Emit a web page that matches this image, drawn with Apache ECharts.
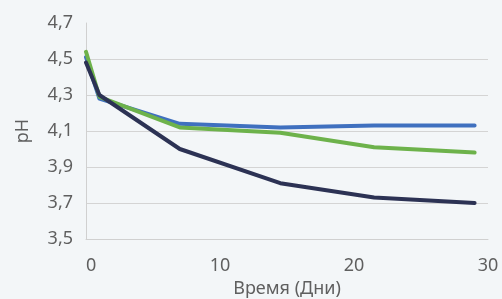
<!DOCTYPE html>
<html><head><meta charset="utf-8">
<script src="https://cdn.jsdelivr.net/npm/echarts@6/dist/echarts.min.js"></script>
<style>html,body{margin:0;padding:0;background:#f3f6f8}#c{width:502px;height:299px}</style>
</head><body><div id="c"></div>
<script>
const days = [0, 1, 7, 14.5, 21.5, 29];
const blueVals = [4.51, 4.28, 4.14, 4.12, 4.13, 4.13];
const greenVals = [4.54, 4.29, 4.12, 4.09, 4.01, 3.98];
const darkVals = [4.48, 4.30, 4.00, 3.81, 3.73, 3.70];
const xName = 'Время (Дни)';
const yName = 'pH';

const pair = v => days.map((d, i) => [d, v[i]]);
const chart = echarts.init(document.getElementById('c'));
const lineS = (name, vals, color) => ({
  name, type: 'line', data: pair(vals), showSymbol: false, symbol: 'none',
  lineStyle: { width: 4, color, cap: 'round', join: 'round' }, itemStyle: { color }
});
const font = 'Noto Sans';
chart.setOption({
  backgroundColor: '#f3f6f8',
  animation: false,
  grid: { left: 86, right: 14, top: 23, bottom: 60, containLabel: false, outerBoundsMode: 'none' },
  xAxis: {
    type: 'value', min: 0, max: 30, interval: 10,
    name: xName, nameLocation: 'middle', nameGap: 41,
    nameTextStyle: { fontFamily: font, fontSize: 18, color: '#5f5f5f' },
    axisLine: { show: true, lineStyle: { color: '#d0d0d0', width: 1 } },
    axisTick: { show: false },
    splitLine: { show: false },
    axisLabel: { fontFamily: font, fontSize: 18, color: '#5f5f5f', margin: 18, alignMinLabel: 'left' }
  },
  yAxis: {
    type: 'value', min: 3.5, max: 4.7, interval: 0.2,
    name: yName, nameLocation: 'middle', nameGap: 54, nameRotate: 90,
    nameTextStyle: { fontFamily: font, fontSize: 18, color: '#5f5f5f' },
    axisLine: { show: true, lineStyle: { color: '#d0d0d0', width: 1 } },
    axisTick: { show: false },
    splitLine: { show: true, lineStyle: { color: ['#d4d4d4','#d4d4d4','#d4d4d4','#d4d4d4','#d4d4d4','#d4d4d4','rgba(0,0,0,0)'], width: 1 } },
    axisLabel: { fontFamily: font, fontSize: 18, color: '#5f5f5f', margin: 13,
      formatter: v => v.toFixed(1).replace('.', ',') }
  },
  series: [
    lineS('A', blueVals, '#3f70bf'),
    lineS('B', greenVals, '#6db24b'),
    lineS('C', darkVals, '#2c3254')
  ]
});
</script></body></html>
